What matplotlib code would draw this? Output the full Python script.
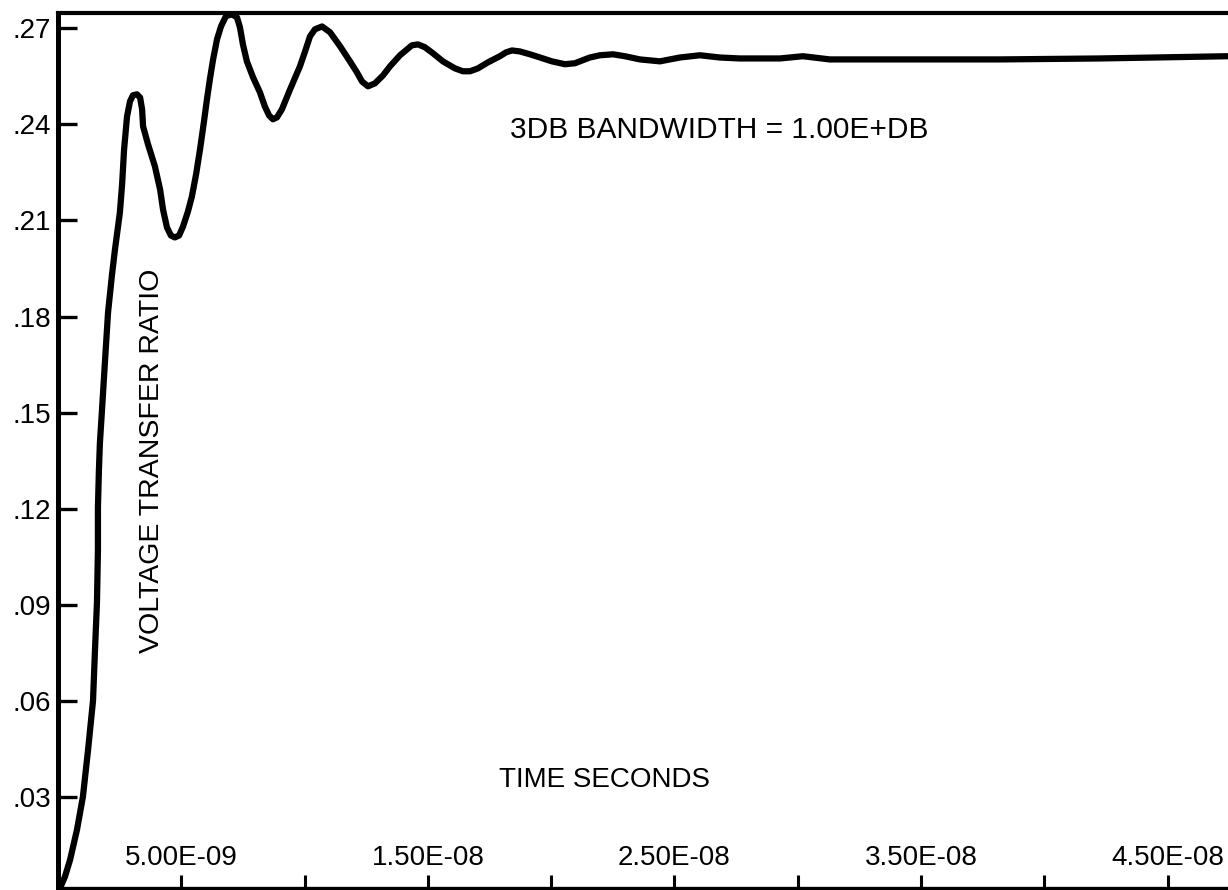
import numpy as np
import matplotlib
matplotlib.use("Agg")
import matplotlib.pyplot as plt

# Step response (time in ns, voltage transfer ratio)
time_ns = [0.0, 0.28, 0.49, 0.77, 1.01, 1.22, 1.42, 1.50, 1.58, 1.62, 1.62,
           1.66, 1.70, 1.78, 1.91, 2.03, 2.19, 2.31, 2.51, 2.60, 2.68, 2.80,
           2.92, 3.04, 3.20, 3.33, 3.41, 3.45, 3.65, 3.93, 4.14, 4.26, 4.42,
           4.58, 4.74, 4.91, 5.07, 5.27, 5.43, 5.60, 5.76, 5.92, 6.04, 6.16,
           6.29, 6.45, 6.61, 6.81, 7.06, 7.26, 7.38, 7.50, 7.66, 7.91, 8.19,
           8.39, 8.56, 8.72, 8.88, 9.08, 9.41, 9.81, 10.02, 10.22, 10.42,
           10.71, 11.03, 11.44, 11.84, 12.12, 12.33, 12.57, 12.85, 13.18,
           13.46, 13.87, 14.15, 14.35, 14.60, 14.88, 15.21, 15.61, 16.10,
           16.42, 16.71, 17.03, 17.44, 17.92, 18.17, 18.41, 18.73, 19.14,
           19.55, 20.03, 20.56, 20.96, 21.57, 21.98, 22.51, 22.99, 23.60,
           24.41, 25.22, 26.03, 26.84, 27.66, 29.28, 30.21, 31.30, 33.33,
           38.20, 42.25, 47.44]
ratio = [0.0, 0.0050, 0.0103, 0.0197, 0.0300, 0.0447, 0.0600, 0.0759, 0.0906,
         0.1072, 0.1206, 0.1322, 0.1406, 0.1503, 0.1666, 0.1813, 0.1931,
         0.2009, 0.2125, 0.2213, 0.2322, 0.2425, 0.2472, 0.2491, 0.2494,
         0.2484, 0.2447, 0.2394, 0.2338, 0.2269, 0.2197, 0.2134, 0.2078,
         0.2053, 0.2047, 0.2053, 0.2081, 0.2128, 0.2175, 0.2244, 0.2322,
         0.2409, 0.2478, 0.2541, 0.2603, 0.2666, 0.2706, 0.2738, 0.2744,
         0.2734, 0.2703, 0.2650, 0.2597, 0.2547, 0.2500, 0.2456, 0.2428,
         0.2416, 0.2422, 0.2447, 0.2509, 0.2581, 0.2628, 0.2675, 0.2697,
         0.2706, 0.2688, 0.2644, 0.2597, 0.2563, 0.2534, 0.2519, 0.2528,
         0.2553, 0.2581, 0.2616, 0.2634, 0.2647, 0.2650, 0.2641, 0.2622,
         0.2597, 0.2575, 0.2566, 0.2566, 0.2575, 0.2594, 0.2613, 0.2625,
         0.2631, 0.2628, 0.2619, 0.2609, 0.2597, 0.2588, 0.2591, 0.2609,
         0.2616, 0.2619, 0.2613, 0.2603, 0.2597, 0.2609, 0.2616, 0.2609,
         0.2606, 0.2606, 0.2613, 0.2603, 0.2603, 0.2603, 0.2606, 0.2613]

y_ticks = [0.03, 0.06, 0.09, 0.12, 0.15, 0.18, 0.21, 0.24, 0.27]
y_labels = [".03", ".06", ".09", ".12", ".15", ".18", ".21", ".24", ".27"]
x_ticks = [5e-9, 1e-8, 1.5e-8, 2e-8, 2.5e-8, 3e-8, 3.5e-8, 4e-8, 4.5e-8]
x_labels = ["5.00E-09", "", "1.50E-08", "", "2.50E-08", "", "3.50E-08", "", "4.50E-08"]

plt.rcParams["font.family"] = ["Liberation Sans", "DejaVu Sans"]

fig = plt.figure(figsize=(12.28, 8.90), dpi=100)
ax = fig.add_axes([58 / 1228, 2 / 890, 1 - 58 / 1228, 875 / 890])

t = np.array(time_ns) * 1e-9
ax.plot(t, ratio, color="black", lw=4.5, solid_capstyle="round",
        solid_joinstyle="round")

ax.set_xlim(0, 47.45e-9)
ax.set_ylim(0.0015, 0.2748)

ax.spines["right"].set_visible(False)
ax.spines["left"].set_linewidth(3.6)
ax.spines["top"].set_linewidth(3.0)
ax.spines["bottom"].set_linewidth(2.4)

ax.set_yticks(y_ticks)
ax.set_yticklabels(y_labels)
ax.set_xticks(x_ticks)
ax.set_xticklabels(x_labels)
ax.tick_params(axis="y", direction="in", length=14, width=2.4, pad=5,
               labelsize=20)
ax.tick_params(axis="x", direction="in", length=9.5, width=2.2, pad=-12,
               labelsize=20)
for lab in ax.get_xticklabels():
    lab.set_verticalalignment("bottom")

ax.text(18.33e-9, 0.2384, "3DB BANDWIDTH = 1.00E+DB", fontsize=21.5,
        ha="left", va="center")
ax.text(3.81e-9, 0.135, "VOLTAGE TRANSFER RATIO", fontsize=20.5,
        rotation=90, ha="center", va="center")
ax.text(22.18e-9, 0.0353, "TIME SECONDS", fontsize=20,
        ha="center", va="center")

fig.savefig("out.png", dpi=100)
